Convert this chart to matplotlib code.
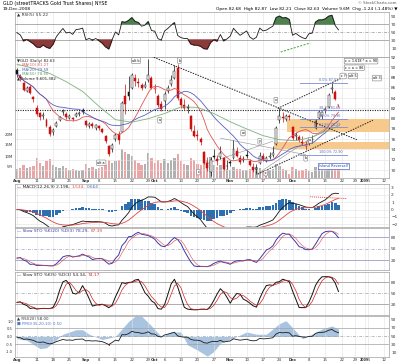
import numpy as np
import pandas as pd
import matplotlib
matplotlib.use("Agg")
import matplotlib.pyplot as plt

W, H = 400, 364

# GLD daily, 1-Aug-2008 .. 19-Dec-2008 (trading days)
opens = [89.4, 88.3, 87.0, 85.4, 86.2, 84.3, 82.0, 81.1, 80.6, 79.8, 78.4,
         77.5, 78.6, 79.7, 81.3, 81.0, 80.2, 80.2, 80.6, 81.0, 81.6,
         79.5, 78.6, 79.0, 78.2, 78.5, 78.0, 76.6, 74.6, 74.0,
         76.0, 77.0, 77.5, 84.5, 85.2, 86.0, 88.0, 87.1, 86.5, 86.1,
         87.5, 88.0, 85.8, 84.5, 82.9, 83.5, 85.3, 86.8, 88.0, 89.8,
         83.9, 82.6, 82.3, 80.5, 77.6, 76.8, 76.0, 73.5, 71.3, 69.6,
         72.8, 72.1, 72.5, 72.4, 70.8, 71.5, 72.3, 73.8, 72.3, 72.0,
         72.9, 71.8, 70.6, 70.2, 71.4, 72.8, 71.8, 72.6, 73.0, 75.0,
         79.8, 80.3, 80.0, 80.6, 78.4, 76.6, 76.5, 75.4, 74.6,
         75.4, 76.0, 78.2, 80.2, 80.6, 81.6, 82.2, 85.8, 85.2, 82.68]
highs = [89.8, 88.6, 87.2, 86.3, 86.6, 84.5, 82.6, 81.3, 81.2, 80.1, 78.7,
         78.2, 79.5, 80.6, 81.9, 81.2, 80.9, 80.4, 81.3, 81.5, 82.0,
         79.7, 79.4, 79.3, 79.0, 78.7, 78.1, 76.8, 74.8, 75.3,
         77.2, 77.6, 83.5, 86.8, 88.3, 88.8, 88.6, 88.0, 87.0, 87.4,
         91.6, 88.3, 86.7, 84.8, 83.4, 85.3, 86.5, 88.4, 90.4, 90.6,
         84.3, 83.9, 82.9, 80.8, 78.7, 77.8, 76.4, 73.8, 72.5, 72.6,
         74.0, 73.0, 74.7, 72.6, 71.9, 72.0, 75.8, 74.4, 73.0, 72.8,
         73.9, 72.1, 71.4, 71.1, 73.6, 73.3, 72.8, 73.6, 74.6, 78.6,
         82.0, 81.2, 81.0, 80.9, 78.6, 77.5, 76.9, 76.6, 75.6,
         76.3, 76.8, 80.0, 81.6, 81.5, 82.3, 85.0, 87.2, 85.5, 82.87]
lows = [88.2, 87.3, 85.3, 85.2, 84.8, 83.2, 80.6, 79.8, 80.0, 78.3, 76.6,
        76.9, 78.3, 79.5, 80.8, 80.0, 80.0, 79.6, 80.4, 80.6, 81.0,
        78.3, 78.2, 78.1, 77.8, 77.7, 77.2, 75.3, 72.7, 73.6,
        75.7, 75.0, 77.4, 81.0, 83.6, 85.8, 86.4, 86.2, 85.5, 85.9,
        87.2, 85.7, 85.0, 82.2, 81.4, 81.9, 84.9, 86.3, 87.7, 83.6,
        82.0, 81.6, 81.1, 77.6, 76.5, 75.8, 74.8, 71.1, 69.8, 68.8,
        72.1, 71.0, 72.1, 70.0, 70.2, 70.8, 72.1, 72.5, 71.2, 71.6,
        72.4, 70.7, 69.7, 69.3, 71.2, 71.7, 71.5, 72.1, 72.6, 74.9,
        79.2, 79.4, 79.6, 79.8, 75.8, 75.9, 75.4, 74.9, 73.9,
        74.9, 75.3, 77.9, 80.0, 79.9, 81.1, 82.0, 85.0, 83.6, 82.21]
closes = [88.6, 88.0, 85.6, 85.9, 85.0, 83.8, 81.0, 80.3, 80.7, 78.6, 77.0,
          77.7, 79.2, 80.3, 81.5, 80.3, 80.5, 80.0, 81.0, 81.1, 81.3,
          78.8, 79.0, 78.5, 78.7, 78.2, 77.5, 75.7, 73.2, 74.8,
          76.8, 75.8, 83.0, 82.8, 84.5, 88.5, 87.3, 87.0, 86.0, 86.5,
          88.5, 86.0, 85.8, 82.6, 81.8, 84.8, 86.0, 87.6, 89.2, 84.0,
          82.6, 82.0, 82.0, 78.0, 76.7, 76.6, 75.4, 71.4, 70.4, 71.9,
          72.6, 71.8, 73.4, 70.2, 70.7, 71.4, 74.0, 72.8, 71.6, 72.2,
          72.8, 70.9, 70.0, 70.4, 72.8, 72.1, 72.3, 72.8, 73.3, 78.2,
          80.6, 80.2, 80.6, 80.3, 76.2, 76.8, 75.9, 75.2, 74.8,
          75.8, 75.9, 79.6, 81.2, 81.2, 81.9, 84.6, 86.0, 83.87, 82.63]
volume_m = [4.0, 4.5, 6.0, 4.5, 5.0, 5.5, 9.0, 7.0, 5.5, 7.5, 8.5,
            6.0, 5.0, 4.5, 5.5, 4.5, 3.5, 4.0, 3.5, 3.0, 3.5,
            6.5, 4.5, 5.0, 4.0, 4.5, 5.0, 6.0, 8.0, 7.0,
            7.5, 8.0, 13.0, 12.0, 11.0, 10.0, 8.0, 7.0, 6.0, 6.5,
            11.5, 9.0, 7.0, 8.0, 7.0, 8.5, 7.0, 8.0, 9.0, 11.0,
            7.5, 6.5, 6.0, 9.0, 8.0, 6.5, 6.0, 8.5, 8.0, 9.5,
            6.0, 5.0, 6.0, 5.0, 4.0, 3.5, 5.0, 4.0, 4.0, 3.5,
            3.5, 4.0, 4.5, 5.0, 4.5, 3.0, 3.0, 3.5, 4.0, 6.5,
            5.5, 4.0, 3.5, 2.0, 5.0, 4.0, 3.0, 3.5, 4.0,
            3.0, 2.5, 5.0, 4.5, 3.5, 3.5, 5.5, 6.0, 5.0, 4.5]

# slow moving average (trading-day index, value)
ma50_idx = [0, 5, 10, 15, 20, 25, 30, 35, 40, 45, 50, 55, 60, 65, 70, 75, 80, 85, 90, 95, 98]
ma50_val = [90.6, 89.8, 88.8, 87.2, 85.3, 82.4, 79.8, 79.3, 80.0, 81.0, 82.3, 82.2,
            81.0, 79.4, 78.0, 76.7, 75.9, 75.7, 76.4, 77.8, 78.6]

# blue momentum area in the lowest panel (trading-day index, value)
mom_idx = [0, 3, 7, 9, 11, 14, 18, 20, 22, 26, 30, 34, 36, 38, 41, 44, 47, 50, 52, 55,
           58, 60, 62, 66, 70, 73, 76, 80, 82, 85, 87, 90, 93, 96, 98]
mom_val = [-0.15, -0.25, -0.8, -0.75, -0.4, 0.15, 0.45, 0.45, 0.15, -0.2, 0.0, 1.0, 1.35,
           1.35, 0.7, 0.0, 0.3, 0.3, -0.55, -0.9, -1.3, -1.0, -0.45, -0.1, 0.3, 0.15, 0.15,
           0.85, 1.05, 0.35, -0.15, 0.15, 0.5, 0.7, 0.5]

# RSI levels on 1-Aug (used to start the smoothing)
rsi5_start = 48
rsi20_start = 47

tick_pos = [0, 6, 11, 16, 21, 25, 30, 35, 40, 42, 45, 50, 55, 60, 65, 70, 75, 80, 84,
            89, 94, 99, 103, 106, 107, 112]
tick_lab = ["Aug", "11", "18", "25", "Sep", "8", "15", "22", "29", "Oct", "6", "13", "20",
            "27", "Nov", "10", "17", "24", "Dec", "8", "15", "22", "29", "2009", "5", "12"]
months = {"Aug", "Sep", "Oct", "Nov", "Dec", "2009"}

o = pd.Series(opens)
hi = pd.Series(highs)
lo = pd.Series(lows)
c = pd.Series(closes)
x = np.arange(len(c))

ma10 = c.rolling(10, min_periods=1).mean()
ma20 = c.rolling(20, min_periods=1).mean()


def rsi(s, n, start):
    d = s.diff().fillna(0).to_numpy()
    ad = 0.8
    au = ad * start / (100 - start)
    out = []
    for v in d:
        au = (au * (n - 1) + max(v, 0)) / n
        ad = (ad * (n - 1) + max(-v, 0)) / n
        out.append(100 - 100 / (1 + au / ad))
    return np.array(out)


def slow_sto(n, k=3, d=3):
    hh = hi.rolling(n, min_periods=1).max()
    ll = lo.rolling(n, min_periods=1).min()
    fk = 100 * (c - ll) / (hh - ll)
    sk = fk.rolling(k, min_periods=1).mean()
    return sk, sk.rolling(d, min_periods=1).mean()


macd = c.ewm(span=12, adjust=False).mean() - c.ewm(span=26, adjust=False).mean()
sig = macd.ewm(span=9, adjust=False).mean()
hist = macd - sig
rsi5 = rsi(c, 5, rsi5_start)
rsi20 = rsi(c, 20, rsi20_start)
sk1, sd1 = slow_sto(20)
sk2, sd2 = slow_sto(5)

FS = 3.1
fig = plt.figure(figsize=(W / 100, H / 100), dpi=100)


def panel(top, bottom):
    ax = fig.add_axes([15 / W, 1 - bottom / H, 374 / W, (bottom - top) / H])
    ax.set_xlim(-0.6, 113.4)
    ax.set_xticks(tick_pos)
    ax.set_xticklabels([])
    ax.yaxis.tick_right()
    ax.tick_params(length=0, labelsize=FS, pad=1.5, colors="#333333")
    ax.grid(axis="x", color="#e2e2e2", lw=0.4)
    ax.set_axisbelow(True)
    for s in ax.spines.values():
        s.set_color("#a0a0a0")
        s.set_linewidth(0.5)
    return ax


def left_twin(ax, ylim, ticks, labels, fs):
    tw = ax.twinx()
    ax.yaxis.tick_right()  # twinx moves the host's labels to the left
    tw.yaxis.tick_left()
    tw.set_ylim(*ylim)
    tw.set_yticks(ticks)
    tw.set_yticklabels(labels)
    tw.tick_params(length=0, labelsize=fs, pad=1.5, colors="#333333")
    for s in tw.spines.values():
        s.set_visible(False)
    return tw


def date_labels(ax):
    ax.set_xticklabels(tick_lab)
    for t in ax.get_xticklabels():
        t.set_fontsize(2.8)
        if t.get_text() in months:
            t.set_fontweight("bold")
        if t.get_text() == "2009":
            t.set_fontsize(2.4)
        if t.get_text() == "5":
            t.set_horizontalalignment("left")
    ax.tick_params(axis="x", pad=0.8)


def legend_row(ax, y, parts, fs=FS):
    t = ax.text(0.006, y, parts[0][0], transform=ax.transAxes, fontsize=fs,
                color=parts[0][1], va="top", ha="left", zorder=10)
    for txt, col in parts[1:]:
        t = ax.annotate(txt, xy=(1, 0), xycoords=t, xytext=(1, 0),
                        textcoords="offset points", va="bottom", ha="left",
                        fontsize=fs, color=col, zorder=10)


def rsi_fill(ax, r):
    ax.fill_between(x, r, 70, where=r >= 70, interpolate=True, color="#4f8050", zorder=3)
    ax.fill_between(x, r, 30, where=r <= 30, interpolate=True, color="#8c3b3b", zorder=3)
    ax.plot(x, r, color="#1a1a1a", lw=0.6, zorder=4)


# header
fig.text(3 / W, 1 - 4 / H, "GLD (streetTRACKS Gold Trust Shares) NYSE", fontsize=3.4,
         va="center", ha="left")
fig.text(3 / W, 1 - 9.5 / H, "19-Dec-2008", fontsize=3.2, va="center", ha="left")
fig.text(397 / W, 1 - 3.5 / H, "© StockCharts.com", fontsize=2.8, va="center", ha="right",
         color="#555555")
fig.text(397 / W, 1 - 9 / H,
         "Open 82.68  High 82.87  Low 82.21  Close 82.63  Volume 9.6M  Chg -1.24 (-1.48%) ▼",
         fontsize=3.1, va="center", ha="right")

# RSI(5)
ax_r = panel(12, 57)
ax_r.set_ylim(-12.5, 100)
ax_r.set_yticks([10, 30, 50, 70, 90])
ax_r.axhline(70, color="#909090", lw=0.5)
ax_r.axhline(30, color="#909090", lw=0.5)
ax_r.axhline(50, color="#909090", lw=0.5, ls=(0, (4, 2, 1, 2)))
rsi_fill(ax_r, rsi5)
ax_r.plot([80.4, 89.4], [0, 22.5], color="#3c9a3c", lw=0.7, ls=(0, (2, 1.5)), zorder=5)
legend_row(ax_r, 0.98, [("▲ RSI(5) %.2f" % rsi5[-1], "#333333")])

# price panel
ax = panel(57, 178)
ax.set_ylim(68.45, 91.95)
ax.set_yticks(np.arange(70, 93, 2))
ax.grid(axis="y", color="#e2e2e2", lw=0.4)
vol = left_twin(ax, (0, 55), [5, 10, 15, 20], ["5M", "10M", "15M", "20M"], 2.8)
prev = c.shift(1).fillna(c.iloc[0])
vcol = np.where(c >= prev, "#b0b0b0", "#eaa6a6")
vol.bar(x, volume_m, width=0.7, color=vcol, linewidth=0)
ax.set_zorder(vol.get_zorder() + 1)
ax.patch.set_visible(False)

# orange zones
ax.fill_between([82.2, 113.4], 77.4, 80.0, color="#f8c98c", lw=0, zorder=1)
ax.fill_between([78.2, 113.4], 74.1, 75.4, color="#f8c98c", lw=0, zorder=1)
ax.axhline(81.7, color="#222222", lw=0.8, ls=(0, (1, 1.2)), zorder=2)

# candles
ccol = np.where(c >= prev, "#111111", "#cc1111")
ax.vlines(x, lo, hi, colors=ccol, lw=0.5, zorder=4)
body_lo = np.minimum(o, c)
body_h = np.maximum(np.abs(c - o), 0.08)
face = np.where(c >= o, "white", ccol)
ax.bar(x, body_h, bottom=body_lo, width=0.6, color=face, edgecolor=ccol, linewidth=0.35,
       zorder=5)

ax.plot(x, ma10, color="#e05555", lw=0.6, zorder=6)
ax.plot(x, ma20, color="#5560c0", lw=0.6, zorder=6)
ax.plot(ma50_idx, ma50_val, color="#7fb07f", lw=0.6, zorder=6)

# trend lines
ax.plot([38, 103.6], [92.9, 75.9], color="#222222", lw=0.7, ls=(0, (1.5, 1.2)), zorder=7)
ax.plot([79.5, 100.6], [82.0, 88.4], color="#222222", lw=0.7, ls=(0, (1.5, 1.2)), zorder=7)
ax.plot([73.4, 108.5], [69.2, 79.7], color="#222222", lw=0.7, ls=(0, (1.5, 1.2)), zorder=7)
ax.plot([62, 88], [76.2, 73.0], color="#909090", lw=0.4, zorder=3)
ax.plot([58, 78], [71.3, 75.6], color="#909090", lw=0.4, zorder=3)
ax.plot([73.4, 95], [69.3, 78.5], color="#909090", lw=0.4, zorder=3)

# fibonacci retracement
fib_hi, fib_lo = 87.02, 72.90
for lvl in [0.0, 0.382, 0.5, 0.618, 1.0]:
    p = fib_hi - (fib_hi - fib_lo) * lvl
    ax.plot([86.4, 100.6], [p, p], color="#7d8ad8", lw=0.6, zorder=7)
    ax.text(92, p + 0.15, "%.1f%% %.2f" % (lvl * 100, p), fontsize=2.4, color="#5a6ab8",
            va="bottom", ha="left", zorder=8)

box = dict(boxstyle="round,pad=0.25", fc="white", ec="#7a7a7a", lw=0.4)
for lx, ly, txt in [(36.3, 91.3, "alt b"), (49.5, 91.3, "b"), (43.5, 79.7, "a"),
                    (25.7, 71.4, "alt a"), (55.3, 69.6, "c"), (78.9, 83.6, "x"),
                    (68.9, 77.2, "w"), (74.0, 75.6, "y"), (88.0, 72.3, "b"),
                    (75.8, 69.4, "c"), (89.4, 75.8, "a"), (99.4, 88.3, "c ?"),
                    (102.4, 88.3, "alt 5"), (109.7, 87.9, "alt 3")]:
    ax.text(lx, ly, txt, fontsize=2.4, ha="center", va="center", bbox=box, zorder=9)
ax.text(96.5, 70.8, "Island Reversal?", fontsize=2.6, color="#2040c0", ha="center",
        va="center", bbox=dict(boxstyle="square,pad=0.25", fc="white", ec="#2040c0", lw=0.4),
        zorder=9)
ax.text(100.0, 91.2, "c = 1.618 * a = 90", fontsize=2.4, ha="left", va="center", bbox=box,
        zorder=9)
ax.text(100.0, 89.9, "c = a = 86", fontsize=2.4, ha="left", va="center", bbox=box, zorder=9)

yl = 0.985
for txt, col in [("▼GLD (Daily) %.2f" % c.iloc[-1], "#222222"),
                 ("— MA(10) %.2f" % ma10.iloc[-1], "#e05555"),
                 ("— MA(20) %.2f" % ma20.iloc[-1], "#5560c0"),
                 ("— MA(50) %.2f" % ma50_val[-1], "#60a060"),
                 ("▲Volume 9,601,382", "#222222")]:
    ax.text(0.006, yl, txt, transform=ax.transAxes, fontsize=2.8, color=col, va="top",
            zorder=10)
    yl -= 0.036
date_labels(ax)

# MACD
ax_m = panel(184, 227)
ax_m.set_ylim(-2.4, 3.5)
ax_m.set_yticks([-2, -1, 0, 1, 2, 3])
ax_m.grid(axis="y", color="#e2e2e2", lw=0.4)
ax_m.bar(x, hist, width=0.8, color="#2d6fb0", linewidth=0)
ax_m.plot(x, macd, color="#111111", lw=0.6)
ax_m.plot(x, sig, color="#e04545", lw=0.6)
ax_m.plot([89.4, 100.5], [1.75, 1.5], color="#e04545", lw=0.7, ls=(0, (1, 1)))
legend_row(ax_m, 0.97, [("— MACD(12,26,9) %.3f," % macd.iloc[-1], "#222222"),
                        ("%.3f," % sig.iloc[-1], "#e04545"),
                        ("%.3f" % hist.iloc[-1], "#2d6fb0")])

# Slow stochastic 1
ax_s1 = panel(228, 270)
ax_s1.set_ylim(-6, 103.7)
ax_s1.set_yticks([20, 50, 80])
ax_s1.axhline(80, color="#9c9cc8", lw=0.6)
ax_s1.axhline(20, color="#9c9cc8", lw=0.6)
ax_s1.axhline(50, color="#9c9cc8", lw=0.5, ls=(0, (4, 2, 1, 2)))
ax_s1.plot(x, sk1, color="#3a3aa8", lw=0.7)
ax_s1.plot(x, sd1, color="#e04545", lw=0.4)
legend_row(ax_s1, 0.97, [("— Slow STO %%K(20) %%D(3) %.2f," % sk1.iloc[-1], "#3a3aa8"),
                         ("%.2f" % sd1.iloc[-1], "#e04545")])

# Slow stochastic 2
ax_s2 = panel(272, 315)
ax_s2.set_ylim(-9, 107)
ax_s2.set_yticks([20, 50, 80])
ax_s2.axhline(80, color="#a0a0a0", lw=0.6)
ax_s2.axhline(20, color="#a0a0a0", lw=0.6)
ax_s2.axhline(50, color="#a0a0a0", lw=0.5, ls=(0, (4, 2, 1, 2)))
ax_s2.plot(x, sk2, color="#111111", lw=0.7)
ax_s2.plot(x, sd2, color="#d02020", lw=0.5)
legend_row(ax_s2, 0.97, [("— Slow STO %%K(5) %%D(3) %.2f," % sk2.iloc[-1], "#222222"),
                         ("%.2f" % sd2.iloc[-1], "#d02020")])

# RSI(20) + momentum area
ax_b = panel(316, 357)
ax_b.set_ylim(-0.3, 98)
ax_b.set_yticks([10, 30, 50, 70, 90])
ax_b.axhline(70, color="#a0a0a0", lw=0.5)
ax_b.axhline(30, color="#a0a0a0", lw=0.5)
ax_b.axhline(50, color="#a0a0a0", lw=0.5, ls=(0, (4, 2, 1, 2)))
ax_m2 = left_twin(ax_b, (-1.36, 1.36), [-1.0, -0.5, 0.0, 0.5, 1.0],
                  ["-1.0", "-0.5", "0.0", "0.5", "1.0"], 2.6)
ax_m2.fill_between(mom_idx, mom_val, 0, color="#a8c4e0", lw=0)
ax_b.set_zorder(ax_m2.get_zorder() + 1)
ax_b.patch.set_visible(False)
rsi_fill(ax_b, rsi20)
ax_b.text(0.006, 0.98, "▲ RSI(20) %.2f" % rsi20[-1], transform=ax_b.transAxes,
          fontsize=2.9, color="#333333", va="top")
ax_b.text(0.006, 0.86, "■ PMO(35,20,10) %.2f" % mom_val[-1], transform=ax_b.transAxes,
          fontsize=2.9, color="#5577cc", va="top")
date_labels(ax_b)

fig.savefig("out.png", dpi=100)
